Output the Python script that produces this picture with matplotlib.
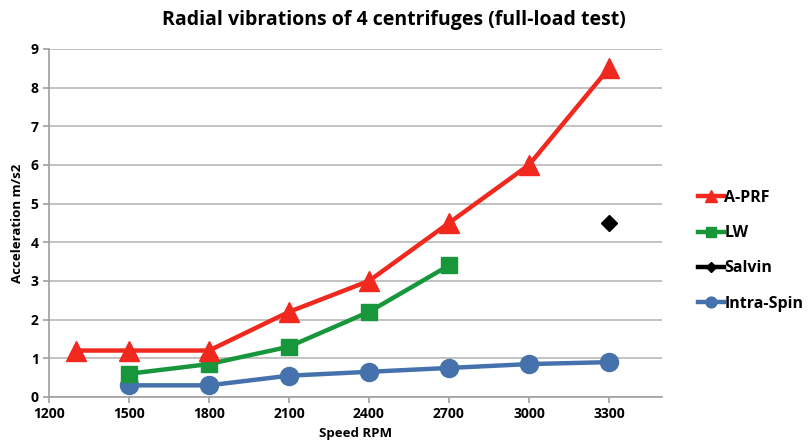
import matplotlib.pyplot as plt

plt.rcParams["font.family"] = ["Open Sans", "DejaVu Sans"]

speed_aprf = [1300, 1500, 1800, 2100, 2400, 2700, 3000, 3300]
accel_aprf = [1.2, 1.2, 1.2, 2.2, 3.0, 4.5, 6.0, 8.5]
speed_lw = [1500, 1800, 2100, 2400, 2700]
accel_lw = [0.6, 0.85, 1.3, 2.2, 3.4]
speed_salvin = [3300]
accel_salvin = [4.5]
speed_intra = [1500, 1800, 2100, 2400, 2700, 3000, 3300]
accel_intra = [0.3, 0.3, 0.55, 0.65, 0.75, 0.85, 0.9]

x_ticks = [1200, 1500, 1800, 2100, 2400, 2700, 3000, 3300]
y_ticks = list(range(10))

fig = plt.figure(figsize=(8.09, 4.45), dpi=100)
ax = fig.add_axes([0.0606, 0.108, 0.758, 0.782])

ax.plot(speed_aprf, accel_aprf, color='#F0281E', lw=3.2, marker='^', ms=14,
        label='A-PRF', zorder=4)
ax.plot(speed_lw, accel_lw, color='#17963C', lw=3.2, marker='s', ms=11.5,
        label='LW', zorder=3)
ax.plot(speed_salvin, accel_salvin, color='black', lw=3.2, marker='D', ms=8.5,
        label='Salvin', zorder=3)
ax.plot(speed_intra, accel_intra, color='#4572AC', lw=3.2, marker='o', ms=13,
        label='Intra-Spin', zorder=2)

ax.set_xlim(1200, 3500)
ax.set_ylim(0, 9)
ax.set_xticks(x_ticks)
ax.set_yticks(y_ticks)
ax.grid(axis='y', color='#B8B8B8', lw=1.2)
ax.set_axisbelow(True)
for s in ['top', 'right']:
    ax.spines[s].set_visible(False)
for s in ['left', 'bottom']:
    ax.spines[s].set_color('#A0A0A0')
    ax.spines[s].set_linewidth(1.2)
ax.tick_params(colors='#A0A0A0', length=4, width=1.2, labelcolor='black',
               labelsize=10)
for lbl in ax.get_xticklabels() + ax.get_yticklabels():
    lbl.set_fontweight('bold')

ax.set_xlabel('Speed RPM', fontsize=9.5, fontweight='bold', labelpad=4)
ax.set_ylabel('Acceleration m/s2', fontsize=9.5, fontweight='bold', labelpad=5)
fig.text(0.487, 0.955, 'Radial vibrations of 4 centrifuges (full-load test)',
         ha='center', va='center', fontsize=14, fontweight='bold')

leg = ax.legend(loc='center left', bbox_to_anchor=(1.035, 0.42), frameon=False,
                prop={'weight': 'bold', 'size': 11.5}, markerscale=0.6,
                handlelength=1.6, handletextpad=0.05, labelspacing=1.2)

fig.savefig('out.png', dpi=100)
